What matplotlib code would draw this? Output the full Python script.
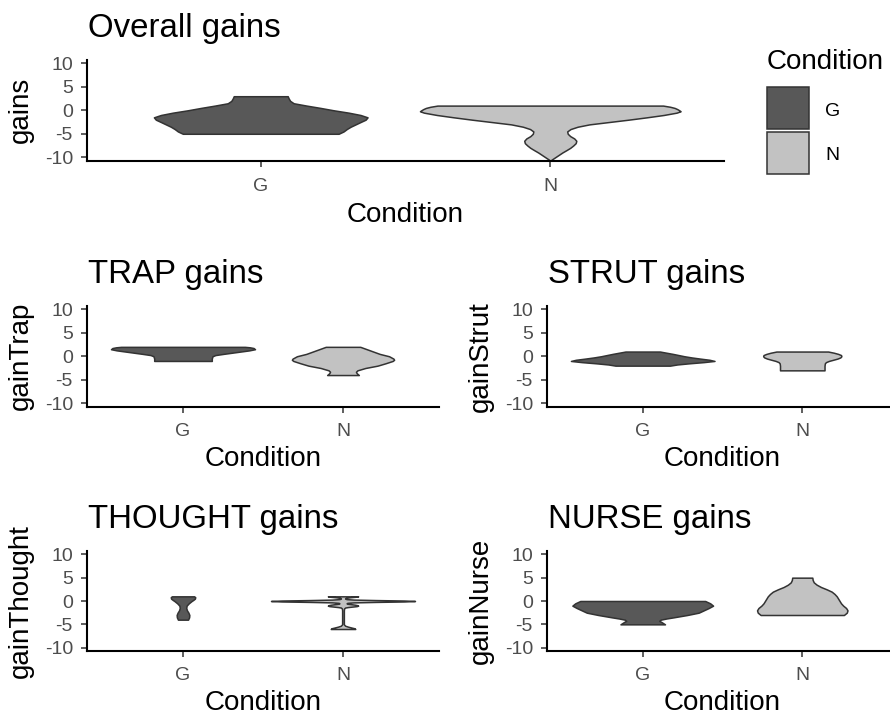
import numpy as np
import matplotlib
matplotlib.use("Agg")
import matplotlib.pyplot as plt
from matplotlib.patches import Rectangle

plt.rcParams['font.family'] = ['Liberation Sans', 'DejaVu Sans']
plt.rcParams['axes.unicode_minus'] = False

W, H = 890, 720

# ---------------- data ----------------
conditions = ["G", "N"]
panel_titles = ["Overall gains", "TRAP gains", "STRUT gains", "THOUGHT gains", "NURSE gains"]
panel_ylabels = ["gains", "gainTrap", "gainStrut", "gainThought", "gainNurse"]
x_label = "Condition"
legend_title = "Condition"
y_ticks = [-10, -5, 0, 5, 10]
y_tick_labels = ["-10", "-5", "0", "5", "10"]

# violin profiles: gain level and relative half-width
# (1 = widest violin in that panel)
overall_G_y = [3, 2.5, 2, 1.5, 1, 0.5, 0, -0.5, -1, -1.5, -2, -2.5, -3, -3.5, -4, -4.5, -5]
overall_G_w = [0.207, 0.215, 0.226, 0.253, 0.352, 0.46, 0.56, 0.674, 0.766, 0.82, 0.805,
               0.766, 0.728, 0.69, 0.66, 0.636, 0.598]
overall_N_y = [1, 0.75, 0.5, 0.25, 0, -0.2, -0.5, -1, -1.5, -2, -2.5, -3, -3.5, -4, -4.5, -5,
               -5.5, -6, -6.5, -7, -7.5, -8, -8.5, -9, -9.5, -10, -10.5, -10.8]
overall_N_w = [0.866, 0.92, 0.955, 0.975, 0.99, 1.0, 0.97, 0.87, 0.74, 0.6, 0.45, 0.3, 0.21,
               0.155, 0.13, 0.134, 0.153, 0.184, 0.2, 0.195, 0.176, 0.153, 0.123, 0.092,
               0.065, 0.038, 0.011, 0.0]

trap_G_y = [2, 1.9, 1.75, 1.5, 1.25, 1, 0.75, 0.5, 0.25, 0, -0.5, -1]
trap_G_w = [0.86, 0.93, 0.98, 1.0, 0.92, 0.8, 0.68, 0.56, 0.45, 0.41, 0.4, 0.4]
trap_N_y = [2, 1.5, 1, 0.5, 0, -0.5, -0.75, -1, -1.5, -2, -2.5, -3, -3.3, -3.6, -4]
trap_N_w = [0.24, 0.33, 0.42, 0.51, 0.64, 0.7, 0.71, 0.69, 0.59, 0.48, 0.31, 0.2, 0.18, 0.19, 0.22]

strut_G_y = [1, 0.75, 0.5, 0.25, 0, -0.25, -0.5, -0.75, -1, -1.25, -1.5, -1.75, -2]
strut_G_w = [0.24, 0.33, 0.42, 0.5, 0.58, 0.68, 0.8, 0.93, 1.0, 0.85, 0.65, 0.48, 0.38]
strut_N_y = [1, 0.75, 0.5, 0.25, 0, -0.25, -0.5, -0.75, -1, -1.25, -1.5, -2, -3]
strut_N_w = [0.36, 0.44, 0.5, 0.54, 0.545, 0.53, 0.49, 0.43, 0.37, 0.33, 0.315, 0.31, 0.31]

thought_G_y = [1, 0.8, 0.5, 0.2, 0, -0.5, -1, -1.5, -2, -2.5, -3, -3.5, -4]
thought_G_w = [0.155, 0.17, 0.165, 0.14, 0.12, 0.08, 0.05, 0.045, 0.055, 0.075, 0.088, 0.085, 0.07]
thought_N_y = [1, 0.9, 0.8, 0.7, 0.6, 0.5, 0.4, 0.3, 0.2, 0.1, 0, -0.1, -0.2, -0.3, -0.4, -0.5,
               -0.6, -0.7, -0.8, -0.9, -1, -1.1, -1.2, -1.3, -1.4, -1.6, -2, -3, -4, -5, -5.3,
               -5.5, -5.7, -5.85, -6]
thought_N_w = [0.21, 0.17, 0.1, 0.05, 0.03, 0.03, 0.05, 0.15, 0.45, 0.85, 1.0, 0.85, 0.45, 0.15,
               0.06, 0.05, 0.07, 0.12, 0.17, 0.2, 0.21, 0.19, 0.13, 0.07, 0.03, 0.015, 0.012,
               0.012, 0.012, 0.012, 0.03, 0.07, 0.12, 0.16, 0.17]

nurse_G_y = [0, -0.5, -1, -1.5, -2, -2.5, -3, -3.5, -3.75, -4, -4.25, -4.5, -5]
nurse_G_w = [0.87, 0.94, 0.98, 0.92, 0.85, 0.78, 0.62, 0.43, 0.33, 0.25, 0.23, 0.26, 0.31]
nurse_N_y = [5, 4.5, 4, 3.5, 3, 2.5, 2, 1.5, 1, 0.5, 0, -0.5, -1, -1.5, -2, -2.5, -3]
nurse_N_w = [0.14, 0.145, 0.16, 0.2, 0.26, 0.34, 0.41, 0.45, 0.48, 0.5, 0.52, 0.54, 0.57, 0.61,
             0.63, 0.62, 0.58]

profiles = [
    {"G": (overall_G_y, overall_G_w), "N": (overall_N_y, overall_N_w)},
    {"G": (trap_G_y, trap_G_w), "N": (trap_N_y, trap_N_w)},
    {"G": (strut_G_y, strut_G_w), "N": (strut_N_y, strut_N_w)},
    {"G": (thought_G_y, thought_G_w), "N": (thought_N_y, thought_N_w)},
    {"G": (nurse_G_y, nurse_G_w), "N": (nurse_N_y, nurse_N_w)},
]

# ---------------- style ----------------
fill_colors = {"G": "#585858", "N": "#C2C2C2"}
edge_color = "#333333"
tick_text = "#4D4D4D"
violin_width = 0.9

# panel boxes in pixels: left, right, top, bottom
boxes = [
    (87, 724, 59.6, 161.0),
    (87, 439, 305.5, 407.0),
    (547, 898, 305.5, 407.0),
    (87, 439, 550.6, 651.4),
    (547, 898, 550.6, 651.4),
]

fig = plt.figure(figsize=(W / 100, H / 100), dpi=100)
fig.patch.set_facecolor("white")


def fx(x):
    return x / W


def fy(y):
    return 1 - y / H


for k, (l, r, t, b) in enumerate(boxes):
    ax = fig.add_axes([fx(l), fy(b), (r - l) / W, (b - t) / H])
    ax.set_xlim(0.4, 2.6)
    ax.set_ylim(-10.8, 10.8)
    for i, cond in enumerate(conditions):
        ys, ws = profiles[k][cond]
        half = np.asarray(ws) * violin_width / 2
        pos = i + 1
        ax.fill_betweenx(ys, pos - half, pos + half, facecolor=fill_colors[cond],
                         edgecolor=edge_color, linewidth=1.1, zorder=2)
    ax.set_xticks([1, 2], conditions)
    ax.set_yticks(y_ticks, y_tick_labels)
    for s in ["top", "right"]:
        ax.spines[s].set_visible(False)
    for s in ["left", "bottom"]:
        ax.spines[s].set_linewidth(1.5)
        ax.spines[s].set_color("black")
    ax.tick_params(axis="both", labelsize=14, labelcolor=tick_text, color=edge_color,
                   length=4.3, width=1.1)
    ax.tick_params(axis="x", pad=7.6 if k == 0 else 7.2)
    ax.tick_params(axis="y", pad=5.8)
    ax.set_facecolor("none")
    # title
    fig.text(fx(l + 1), fy(t - 22.8), panel_titles[k], fontsize=23.8, ha="left",
             va="baseline", color="black")
    # x label
    fig.text(fx((l + r) / 2), fy(b + (61 if k == 0 else 59)),
             x_label, fontsize=20, ha="center", va="baseline", color="black")
    # y label
    fig.text(fx(l - 53.5), fy((t + b) / 2), panel_ylabels[k], fontsize=20, rotation=90,
             ha="right", va="center", color="black")

# legend (keys drawn in pixel positions)
fig.text(fx(767), fy(69.3), legend_title, fontsize=20, ha="left", va="baseline",
         color="black")
key_tops = [87, 131.5]
for cond, top in zip(conditions, key_tops):
    fig.add_artist(Rectangle((fx(767), fy(top + 42)), 42 / W, 42 / H,
                             transform=fig.transFigure, facecolor=fill_colors[cond],
                             edgecolor=edge_color, linewidth=1.1))
    fig.text(fx(825), fy(top + 29), cond, fontsize=14, ha="left", va="baseline",
             color="black")

fig.savefig("out.png", dpi=100)
